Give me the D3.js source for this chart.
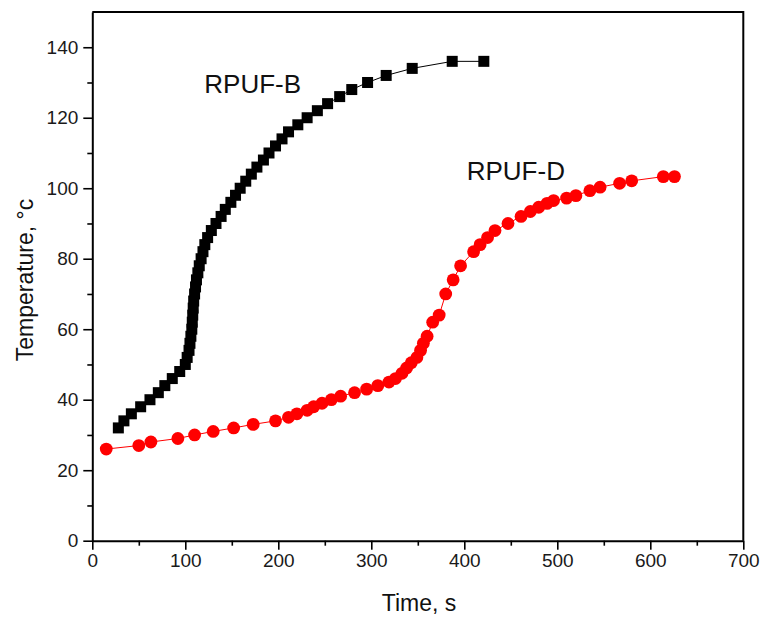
<!doctype html>
<html>
<head>
<script src="https://cdnjs.cloudflare.com/ajax/libs/d3/7.8.5/d3.min.js"></script>
<style>
  body { margin: 0; background: #fff; }
  text { font-family: "Liberation Sans", Arial, sans-serif; }
</style>
</head>
<body>
<svg id="chart" width="763" height="617"></svg>
<script>
// RPUF-B (black squares)
var bTime = [28, 34, 42, 52, 62, 71, 78, 86, 94, 100,
  102, 104, 105, 106, 107, 107.5, 108, 108.5, 109, 110,
  111, 112, 113.5, 115, 117, 119, 121, 124, 128, 133,
  138.5, 143, 149, 154, 159, 165, 171, 177, 184, 190,
  197, 204, 211, 221, 231, 242, 253, 266, 279, 296,
  316, 344, 387, 421];
var bTemp = [32, 34, 36, 38, 40, 42, 44, 46, 48, 50,
  52, 54, 56, 58, 60, 62, 64, 66, 68, 70,
  72, 74, 76, 78, 80, 82, 84, 86, 88, 90,
  92, 94, 96, 98, 100, 102, 104, 106, 108, 110,
  112, 114, 116, 118, 120, 122, 124, 126, 128, 130,
  132, 134, 136, 136];

// RPUF-D (red circles)
var dTime = [15, 50, 63, 92, 110, 130, 152, 173, 197, 211,
  220, 231, 238, 247, 257, 267, 282, 295, 307, 319,
  326, 333, 338, 343, 349, 353, 356, 360, 366, 373,
  380, 388, 396, 410, 417, 425, 433, 447, 461, 471,
  480, 489, 496, 510, 520, 535, 546, 567, 580, 614,
  626];
var dTemp = [26, 27, 28, 29, 30, 31, 32, 33, 34, 35,
  36, 37, 38, 39, 40, 41, 42, 43, 44, 45,
  46, 47.5, 49, 50.5, 52, 54, 56, 58, 62, 64,
  70, 74, 78, 82, 84, 86, 88, 90, 92, 93.4,
  94.6, 95.7, 96.5, 97.2, 97.9, 99.3, 100.3, 101.4, 102.1, 103.3,
  103.3];

var xTicks = [0, 100, 200, 300, 400, 500, 600, 700];
var yTicks = [0, 20, 40, 60, 80, 100, 120, 140];
var seriesNames = ["RPUF-B", "RPUF-D"];

var svg = d3.select("#chart");
var margin = {left: 92.3, top: 12, right: 19.7, bottom: 76.3};
var w = 763 - margin.left - margin.right;
var h = 617 - margin.top - margin.bottom;

var x = d3.scaleLinear().domain([0, 700]).range([0, w]);
var y = d3.scaleLinear().domain([0, 150]).range([h, 0]);

var g = svg.append("g").attr("transform", "translate(" + margin.left + "," + margin.top + ")");

// minor ticks
g.append("g").attr("transform", "translate(0," + h + ")")
  .call(d3.axisBottom(x).tickValues(d3.range(50, 700, 100)).tickSize(5).tickFormat(""))
  .call(a => a.select(".domain").remove());
g.append("g")
  .call(d3.axisLeft(y).tickValues(d3.range(10, 150, 20)).tickSize(5).tickFormat(""))
  .call(a => a.select(".domain").remove());

// major axes
g.append("g").attr("transform", "translate(0," + h + ")")
  .call(d3.axisBottom(x).tickValues(xTicks).tickSize(9).tickSizeOuter(0).tickPadding(4));
g.append("g")
  .call(d3.axisLeft(y).tickValues(yTicks).tickSize(9).tickSizeOuter(0).tickPadding(5));

g.selectAll(".tick line").attr("stroke", "#000").attr("stroke-width", 1.6);
g.selectAll(".domain").attr("stroke", "#000").attr("stroke-width", 2);
g.selectAll(".tick text").attr("fill", "#1a1a1a").style("font-size", "19px")
  .style("font-family", "'Liberation Sans', Arial, sans-serif");

// frame top / right
g.append("path")
  .attr("d", "M0,0H" + w + "V" + h)
  .attr("fill", "none").attr("stroke", "#000").attr("stroke-width", 2);

var bData = bTime.map((t, i) => [t, bTemp[i]]);
var dData = dTime.map((t, i) => [t, dTemp[i]]);

var line = d3.line().x(d => x(d[0])).y(d => y(d[1]));

g.append("path").datum(bData).attr("d", line)
  .attr("fill", "none").attr("stroke", "#000").attr("stroke-width", 1);
g.append("path").datum(dData).attr("d", line)
  .attr("fill", "none").attr("stroke", "#ff0000").attr("stroke-width", 1);

var sq = 11;
g.selectAll("rect.b").data(bData).enter().append("rect")
  .attr("class", "b")
  .attr("x", d => x(d[0]) - sq / 2).attr("y", d => y(d[1]) - sq / 2)
  .attr("width", sq).attr("height", sq).attr("fill", "#000");

g.selectAll("circle.d").data(dData).enter().append("circle")
  .attr("class", "d")
  .attr("cx", d => x(d[0])).attr("cy", d => y(d[1])).attr("r", 6.4)
  .attr("fill", "#ff0000");

// series labels
var labelPos = [[120.4, 127.1], [402.6, 102.2]];
g.selectAll("text.lab").data(seriesNames).enter().append("text")
  .attr("class", "lab")
  .attr("x", (d, i) => x(labelPos[i][0])).attr("y", (d, i) => y(labelPos[i][1]))
  .style("font-size", "26px").attr("fill", "#111").text(d => d);

// axis titles
svg.append("text").attr("x", 419).attr("y", 611)
  .attr("text-anchor", "middle").style("font-size", "23px").attr("fill", "#111")
  .text("Time, s");
svg.append("text").attr("transform", "translate(33,280) rotate(-90)")
  .attr("text-anchor", "middle").style("font-size", "23px").attr("fill", "#111")
  .text("Temperature, °c");
</script>
</body>
</html>
